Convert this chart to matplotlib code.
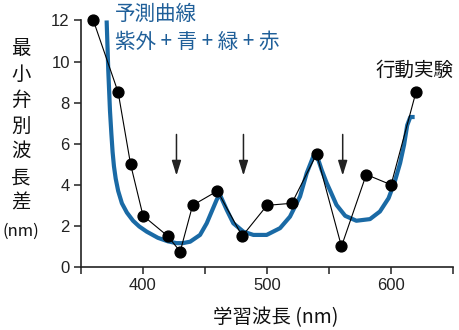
import matplotlib
matplotlib.use("Agg")
import matplotlib.pyplot as plt

plt.rcParams['font.family'] = ['Noto Sans CJK JP', 'DejaVu Sans']

## behavioural experiment (minimum discriminable wavelength difference)
exp_wl = [360, 380, 390, 400, 420, 430, 440, 460, 480, 500, 520, 540, 560, 580, 600, 620]
exp_dl = [12.0, 8.5, 5.0, 2.5, 1.5, 0.75, 3.0, 3.7, 1.5, 3.0, 3.1, 5.5, 1.0, 4.5, 4.0, 8.5]

## predicted curve (UV + blue + green + red receptors)
pred_wl = [370.7, 372.0, 373.4, 374.5, 375.5, 376.6, 378.0, 380.0, 383.0, 387.0, 392.0,
           397.0, 403.0, 412.0, 420.0, 427.0, 432.0, 438.0, 446.0, 451.4, 455.4, 459.4,
           461.8, 467.5, 472.8, 480.9, 489.0, 499.7, 510.5, 518.5, 526.6, 532.0, 537.3,
           540.0, 544.0, 548.0, 551.0, 556.0, 563.0, 572.0, 583.0, 591.0, 598.0, 603.0,
           607.3, 610.5, 613.0, 615.5, 619.0]
pred_dl = [12.0, 9.6, 7.6, 6.5, 5.6, 4.9, 4.3, 3.7, 3.1, 2.65, 2.25,
           1.97, 1.72, 1.42, 1.25, 1.16, 1.16, 1.23, 1.56, 2.13, 2.7, 3.27,
           3.55, 2.78, 2.13, 1.72, 1.56, 1.56, 1.89, 2.45, 3.43, 4.57, 5.38,
           5.46, 4.73, 4.1, 3.7, 3.02, 2.49, 2.25, 2.33, 2.7, 3.35, 4.16,
           5.06, 5.95, 6.9, 7.3, 7.3]

## arrows marking spectral positions
arrow_wl = [427, 481, 561]
arrow_top = 6.45
arrow_tip = 4.45

blue = '#1a6aa5'
blue_txt = '#1f5f99'

fig = plt.figure(figsize=(4.6, 3.3), dpi=100)
ax = fig.add_axes([0.176, 0.191, 0.809, 0.747])

ax.plot(pred_wl, pred_dl, color=blue, lw=3.0, solid_joinstyle='round',
        solid_capstyle='butt', clip_on=False, zorder=2)
ax.plot(exp_wl, exp_dl, color='black', lw=0.8, marker='o', ms=7.8,
        clip_on=False, zorder=3)

for x in arrow_wl:
    ax.annotate('', xy=(x, arrow_tip), xytext=(x, arrow_top),
                arrowprops=dict(arrowstyle='-|>,head_length=0.9,head_width=0.28',
                                color='#222222', lw=1.1, shrinkA=0, shrinkB=0))

ax.set_xlim(350, 650)
ax.set_ylim(0, 12)
ax.set_xticks([350, 400, 450, 500, 550, 600, 650])
ax.set_xticklabels(['', '400', '', '500', '', '600', ''])
ax.set_yticks([0, 2, 4, 6, 8, 10, 12])
ax.tick_params(direction='out', length=5, width=1.1, labelsize=12, pad=3,
               colors='#222222')
for lab in ax.get_xticklabels() + ax.get_yticklabels():
    lab.set_family(['Liberation Sans', 'DejaVu Sans'])
for s in ['top', 'right']:
    ax.spines[s].set_visible(False)
for s in ['left', 'bottom']:
    ax.spines[s].set_linewidth(1.2)
    ax.spines[s].set_color('#222222')

## text labels
fig.text(115/460, 1-14/330, '予測曲線', color=blue_txt, fontsize=14.8,
         ha='left', va='center')
fig.text(115/460, 1-42/330, '紫外 + 青 + 緑 + 赤', color=blue_txt, fontsize=14.8,
         ha='left', va='center')
fig.text(415/460, 1-70/330, '行動実験', color='#111111', fontsize=14,
         ha='center', va='center')

fig.text(21/460, 1-126/330, '\n'.join('最小弁別波長差'), color='#111111',
         fontsize=14, ha='center', va='center', linespacing=1.3)
fig.text(21/460, 1-231/330, '(nm)', color='#111111', fontsize=12,
         ha='center', va='center')
fig.text(276/460, 1-318/330, '学習波長 (nm)', color='#111111', fontsize=14,
         ha='center', va='center')

fig.savefig('out.png', dpi=100)
